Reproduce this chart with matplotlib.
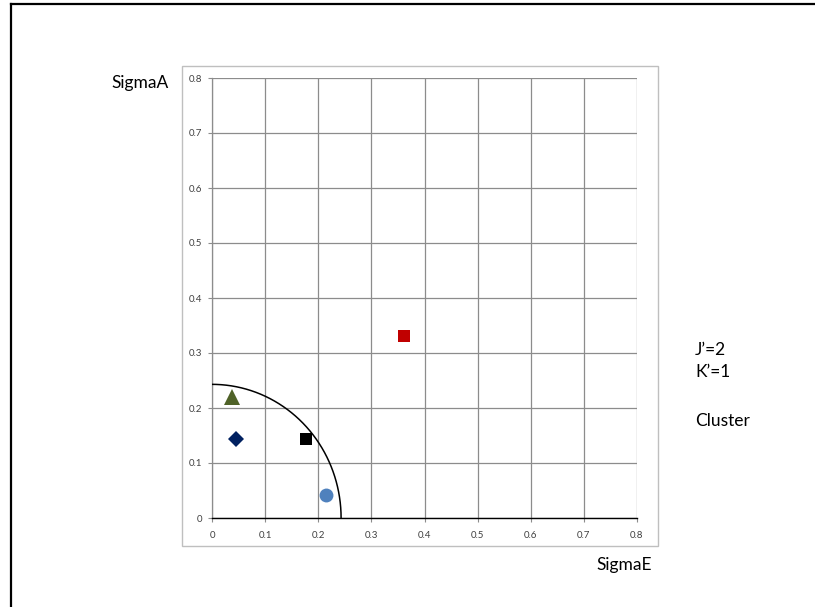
import numpy as np
import matplotlib
matplotlib.use("Agg")
import matplotlib.pyplot as plt
from matplotlib.lines import Line2D
from matplotlib.patches import Rectangle

plt.rcParams["font.family"] = ["Lato", "DejaVu Sans"]

# points: (SigmaE, SigmaA)
series_x = [0.037, 0.0445, 0.176, 0.214, 0.361]
series_y = [0.220, 0.144, 0.144, 0.042, 0.331]
markers = ["^", "D", "s", "o", "s"]
colors = ["#4F6228", "#002060", "#000000", "#4F81BD", "#C00000"]
sizes = [11, 8.5, 8.5, 10, 8.5]

radius = 0.243  # quarter-circle boundary
ticks = [0, 0.1, 0.2, 0.3, 0.4, 0.5, 0.6, 0.7, 0.8]
tick_labels = ["0", "0.1", "0.2", "0.3", "0.4", "0.5", "0.6", "0.7", "0.8"]

W, H = 815, 607
fig = plt.figure(figsize=(W / 100, H / 100), dpi=100)

# outer frame (top and left edges visible)
fig.add_artist(Line2D([11 / W, 1.0], [1 - 4 / H, 1 - 4 / H], color="black",
                      lw=1.6, transform=fig.transFigure))
fig.add_artist(Line2D([11 / W, 11 / W], [0.0, 1 - 4 / H], color="black",
                      lw=1.6, transform=fig.transFigure))

# chart area box
fig.add_artist(Rectangle((182 / W, 1 - 546 / H), 476 / W, 480 / H,
                         fill=False, ec="#bfbfbf", lw=1.0,
                         transform=fig.transFigure))

ax = fig.add_axes([212 / W, 1 - 518 / H, 425 / W, 440 / H])
ax.set_xlim(0, 0.8)
ax.set_ylim(0, 0.8)
ax.set_xticks(ticks)
ax.set_yticks(ticks)
ax.set_xticklabels(tick_labels)
ax.set_yticklabels(tick_labels)
ax.grid(True, color="#8c8c8c", lw=0.9)
ax.set_axisbelow(True)
for s in ["top", "right"]:
    ax.spines[s].set_visible(False)
ax.spines["left"].set_color("#8c8c8c")
ax.spines["left"].set_linewidth(0.9)
ax.spines["bottom"].set_color("black")
ax.spines["bottom"].set_linewidth(1.0)
ax.tick_params(axis="both", labelsize=7, labelcolor="#404040",
               color="#8c8c8c", length=3, width=0.8)
ax.tick_params(axis="y", pad=4)
ax.tick_params(axis="x", pad=6.5)

th = np.linspace(0, np.pi / 2, 200)
ax.plot(radius * np.cos(th), radius * np.sin(th), color="black", lw=1.1,
        zorder=3)

for x, y, m, c, s in zip(series_x, series_y, markers, colors, sizes):
    ax.plot([x], [y], marker=m, color=c, markersize=s, markeredgewidth=0,
            linestyle="none", zorder=4)

fig.text(140 / W, 1 - 83 / H, "SigmaA", fontsize=12.5, ha="center",
         va="center")
fig.text(652 / W, 1 - 565 / H, "SigmaE", fontsize=12.5, ha="right",
         va="center")
fig.text(695 / W, 1 - 350 / H, "J\u2019=2", fontsize=12.5, ha="left",
         va="center")
fig.text(695 / W, 1 - 372 / H, "K\u2019=1", fontsize=12.5, ha="left",
         va="center")
fig.text(695 / W, 1 - 421 / H, "Cluster", fontsize=12.5, ha="left",
         va="center")

fig.savefig("out.png", dpi=100)
